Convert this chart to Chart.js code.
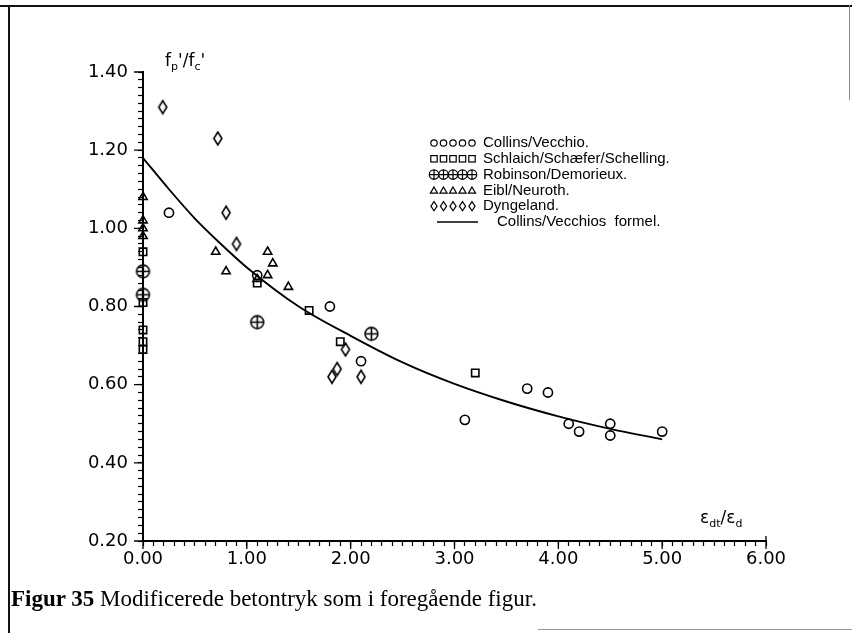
<!DOCTYPE html>
<html>
<head>
<meta charset="utf-8">
<script src="https://cdn.jsdelivr.net/npm/chart.js@4.4.1/dist/chart.umd.min.js"></script>
<style>
  html, body { margin: 0; padding: 0; background: #fff; }
  #wrap { position: relative; width: 852px; height: 633px; overflow: hidden; background: #fff; }
  #c { position: absolute; left: 0; top: 0; }
  .rule { position: absolute; background: #111; }
  .ttl { position: absolute; font-family: 'DejaVu Sans', sans-serif; font-size: 17px; color: #000; line-height: 1; white-space: nowrap; }
  .ttl sub { font-size: 11px; vertical-align: -4px; }
  #caption { position: absolute; left: 11px; top: 586px; font: 23px 'Liberation Serif', 'Times New Roman', serif; color: #000; white-space: nowrap; }
</style>
</head>
<body>
<div id="wrap">
  <canvas id="c" width="852" height="633"></canvas>
  <!-- page frame -->
  <div class="rule" style="left:8px; top:5px; width:2px; height:628px;"></div>
  <div class="rule" style="left:0; top:5px; width:852px; height:2px;"></div>
  <div class="rule" style="left:849px; top:5px; width:1px; height:95px; background:#888;"></div>
  <div class="rule" style="left:538px; top:629px; width:314px; height:1px; background:#999;"></div>

  <div class="ttl" style="left:165px; top:52px;">f<sub>p</sub>'/f<sub>c</sub>'</div>
  <div class="ttl" style="left:700px; top:509px;">ε<sub>dt</sub>/ε<sub>d</sub></div>
  <div id="caption"><b>Figur 35</b> Modificerede betontryk som i foregående figur.</div>
</div>

<script>
// measured points, per source
const collinsX   = [0.25, 1.10, 1.80, 2.10, 3.10, 3.70, 3.90, 4.10, 4.20, 4.50, 4.50, 5.00];
const collinsY   = [1.04, 0.88, 0.80, 0.66, 0.51, 0.59, 0.58, 0.50, 0.48, 0.50, 0.47, 0.48];
const schlaichX  = [0.00, 0.00, 0.00, 0.00, 0.00, 1.10, 1.60, 1.90, 3.20];
const schlaichY  = [0.94, 0.81, 0.74, 0.71, 0.69, 0.86, 0.79, 0.71, 0.63];
const robinsonX  = [0.00, 0.00, 1.10, 2.20];
const robinsonY  = [0.89, 0.83, 0.76, 0.73];
const eiblX      = [0.00, 0.00, 0.00, 0.00, 0.70, 0.80, 1.10, 1.20, 1.25, 1.20, 1.40];
const eiblY      = [1.08, 1.02, 1.00, 0.98, 0.94, 0.89, 0.87, 0.94, 0.91, 0.88, 0.85];
const dyngelandX = [0.19, 0.72, 0.80, 0.90, 1.82, 1.87, 1.95, 2.10];
const dyngelandY = [1.31, 1.23, 1.04, 0.96, 0.62, 0.64, 0.69, 0.62];
// Collins/Vecchio formula curve, read along its length
const formelX    = [0, 0.25, 0.5, 0.75, 1.0, 1.5, 2.0, 2.5, 3.0, 3.5, 4.0, 4.5, 5.0];
const formelY    = [1.18, 1.10, 1.025, 0.96, 0.90, 0.80, 0.725, 0.657, 0.602, 0.557, 0.519, 0.487, 0.46];

const seriesNames = ['Collins/Vecchio.', 'Schlaich/Schæfer/Schelling.', 'Robinson/Demorieux.',
                     'Eibl/Neuroth.', 'Dyngeland.', 'Collins/Vecchios  formel.'];
const xMajor = [0, 1, 2, 3, 4, 5, 6];
const yMajor = [0.2, 0.4, 0.6, 0.8, 1.0, 1.2, 1.4];

const pts = (xs, ys) => xs.map((x, i) => ({ x, y: ys[i] }));

// small canvases for the marker shapes Chart.js lacks
function crossCircle(r) {
  const s = Math.ceil(r * 2 + 4), c = document.createElement('canvas');
  c.width = c.height = s;
  const g = c.getContext('2d'), m = s / 2;
  g.strokeStyle = '#000'; g.lineWidth = 1.6;
  g.beginPath(); g.arc(m, m, r, 0, Math.PI * 2); g.stroke();
  g.beginPath(); g.moveTo(m - r, m); g.lineTo(m + r, m); g.moveTo(m, m - r); g.lineTo(m, m + r); g.stroke();
  return c;
}
function diamond(w, h) {
  const c = document.createElement('canvas');
  c.width = Math.ceil(w + 4); c.height = Math.ceil(h + 4);
  const g = c.getContext('2d'), mx = c.width / 2, my = c.height / 2;
  g.strokeStyle = '#000'; g.lineWidth = 1.6;
  g.beginPath();
  g.moveTo(mx, my - h / 2); g.lineTo(mx + w / 2, my); g.lineTo(mx, my + h / 2); g.lineTo(mx - w / 2, my);
  g.closePath(); g.stroke();
  return c;
}

const isMajor = (v, list) => list.some(m => Math.abs(m - v) < 1e-6);

const base = { borderColor: '#000', backgroundColor: 'rgba(0,0,0,0)', borderWidth: 1.6, showLine: false, clip: false };

// legend with five repeated symbols per row
const rowLegend = {
  id: 'rowLegend',
  afterDraw(chart) {
    const ctx = chart.ctx;
    ctx.save();
    ctx.strokeStyle = '#000'; ctx.fillStyle = '#000'; ctx.lineWidth = 1.2;
    ctx.font = "15px 'Liberation Sans', Arial, sans-serif";
    ctx.textBaseline = 'middle';
    const y0 = 143, dy = 15.8, sx = 434, step = 9.5, tx = 483;
    const sym = {
      0: (x, y) => { ctx.beginPath(); ctx.arc(x, y, 3.2, 0, Math.PI * 2); ctx.stroke(); },
      1: (x, y) => { ctx.strokeRect(x - 3.2, y - 3.2, 6.4, 6.4); },
      2: (x, y) => { ctx.beginPath(); ctx.arc(x, y, 4.7, 0, Math.PI * 2);
                     ctx.moveTo(x - 4.7, y); ctx.lineTo(x + 4.7, y); ctx.moveTo(x, y - 4.7); ctx.lineTo(x, y + 4.7); ctx.stroke(); },
      3: (x, y) => { ctx.beginPath(); ctx.moveTo(x, y - 3.4); ctx.lineTo(x + 3.6, y + 2.8); ctx.lineTo(x - 3.6, y + 2.8); ctx.closePath(); ctx.stroke(); },
      4: (x, y) => { ctx.beginPath(); ctx.moveTo(x, y - 4.6); ctx.lineTo(x + 3.1, y); ctx.lineTo(x, y + 4.6); ctx.lineTo(x - 3.1, y); ctx.closePath(); ctx.stroke(); }
    };
    seriesNames.forEach((name, i) => {
      const y = y0 + i * dy;
      if (i < 5) {
        for (let k = 0; k < 5; k++) sym[i](sx + k * step, y);
        ctx.fillText(name, tx, y);
      } else {
        ctx.lineWidth = 1.5;
        ctx.beginPath(); ctx.moveTo(437, y); ctx.lineTo(478, y); ctx.stroke();
        ctx.fillText(name, 497, y);
      }
    });
    ctx.restore();
  }
};

// longer ticks at the labelled values
const majorTicks = {
  id: 'majorTicks',
  afterDraw(chart) {
    const ctx = chart.ctx, xs = chart.scales.x, ys = chart.scales.y, a = chart.chartArea;
    ctx.save();
    ctx.strokeStyle = '#000'; ctx.lineWidth = 1.3;
    ctx.beginPath();
    xMajor.forEach(v => { const p = xs.getPixelForValue(v); ctx.moveTo(p, a.bottom); ctx.lineTo(p, a.bottom + 8); });
    yMajor.forEach(v => { const p = ys.getPixelForValue(v); ctx.moveTo(a.left, p); ctx.lineTo(a.left - 9, p); });
    // closing tick at the right end of the x axis
    const pr = xs.getPixelForValue(6); ctx.moveTo(pr, a.bottom); ctx.lineTo(pr, a.bottom - 5);
    ctx.stroke();
    ctx.restore();
  }
};

new Chart(document.getElementById('c'), {
  type: 'scatter',
  data: {
    datasets: [
      { ...base, label: seriesNames[0], data: pts(collinsX, collinsY), pointStyle: 'circle', pointRadius: 4.6 },
      { ...base, label: seriesNames[1], data: pts(schlaichX, schlaichY), pointStyle: 'rect', pointRadius: 5.2 },
      { ...base, label: seriesNames[2], data: pts(robinsonX, robinsonY), pointStyle: crossCircle(6.4), pointRadius: 6 },
      { ...base, label: seriesNames[3], data: pts(eiblX, eiblY), pointStyle: 'triangle', pointRadius: 4.8 },
      { ...base, label: seriesNames[4], data: pts(dyngelandX, dyngelandY), pointStyle: diamond(8, 13), pointRadius: 6 },
      { label: seriesNames[5], data: pts(formelX, formelY), showLine: true, pointRadius: 0,
        borderColor: '#000', borderWidth: 1.9, cubicInterpolationMode: 'monotone', fill: false }
    ]
  },
  options: {
    responsive: false, animation: false,
    layout: { padding: { left: 0, top: 72, right: 86, bottom: 0 } },
    plugins: { legend: { display: false }, tooltip: { enabled: false } },
    scales: {
      x: {
        type: 'linear', min: 0, max: 6,
        afterFit: s => { s.height = 92; },
        border: { color: '#000', width: 2 },
        grid: { drawOnChartArea: false, drawTicks: true, tickLength: 5, tickColor: '#000', tickWidth: 1.2 },
        ticks: {
          stepSize: 0.1, autoSkip: false, maxRotation: 0, padding: 3, color: '#000',
          font: { family: "'DejaVu Sans', sans-serif", size: 18 },
          callback: v => isMajor(v, xMajor) ? v.toFixed(2) : ''
        }
      },
      y: {
        type: 'linear', min: 0.2, max: 1.4,
        afterFit: s => { s.width = 143; },
        border: { color: '#000', width: 2 },
        grid: { drawOnChartArea: false, drawTicks: true, tickLength: 5, tickColor: '#000', tickWidth: 1.2 },
        ticks: {
          stepSize: 0.02, autoSkip: false, padding: 10, color: '#000',
          font: { family: "'DejaVu Sans', sans-serif", size: 18 },
          callback: v => isMajor(v, yMajor) ? v.toFixed(2) : ''
        }
      }
    }
  },
  plugins: [rowLegend, majorTicks]
});
</script>
</body>
</html>
